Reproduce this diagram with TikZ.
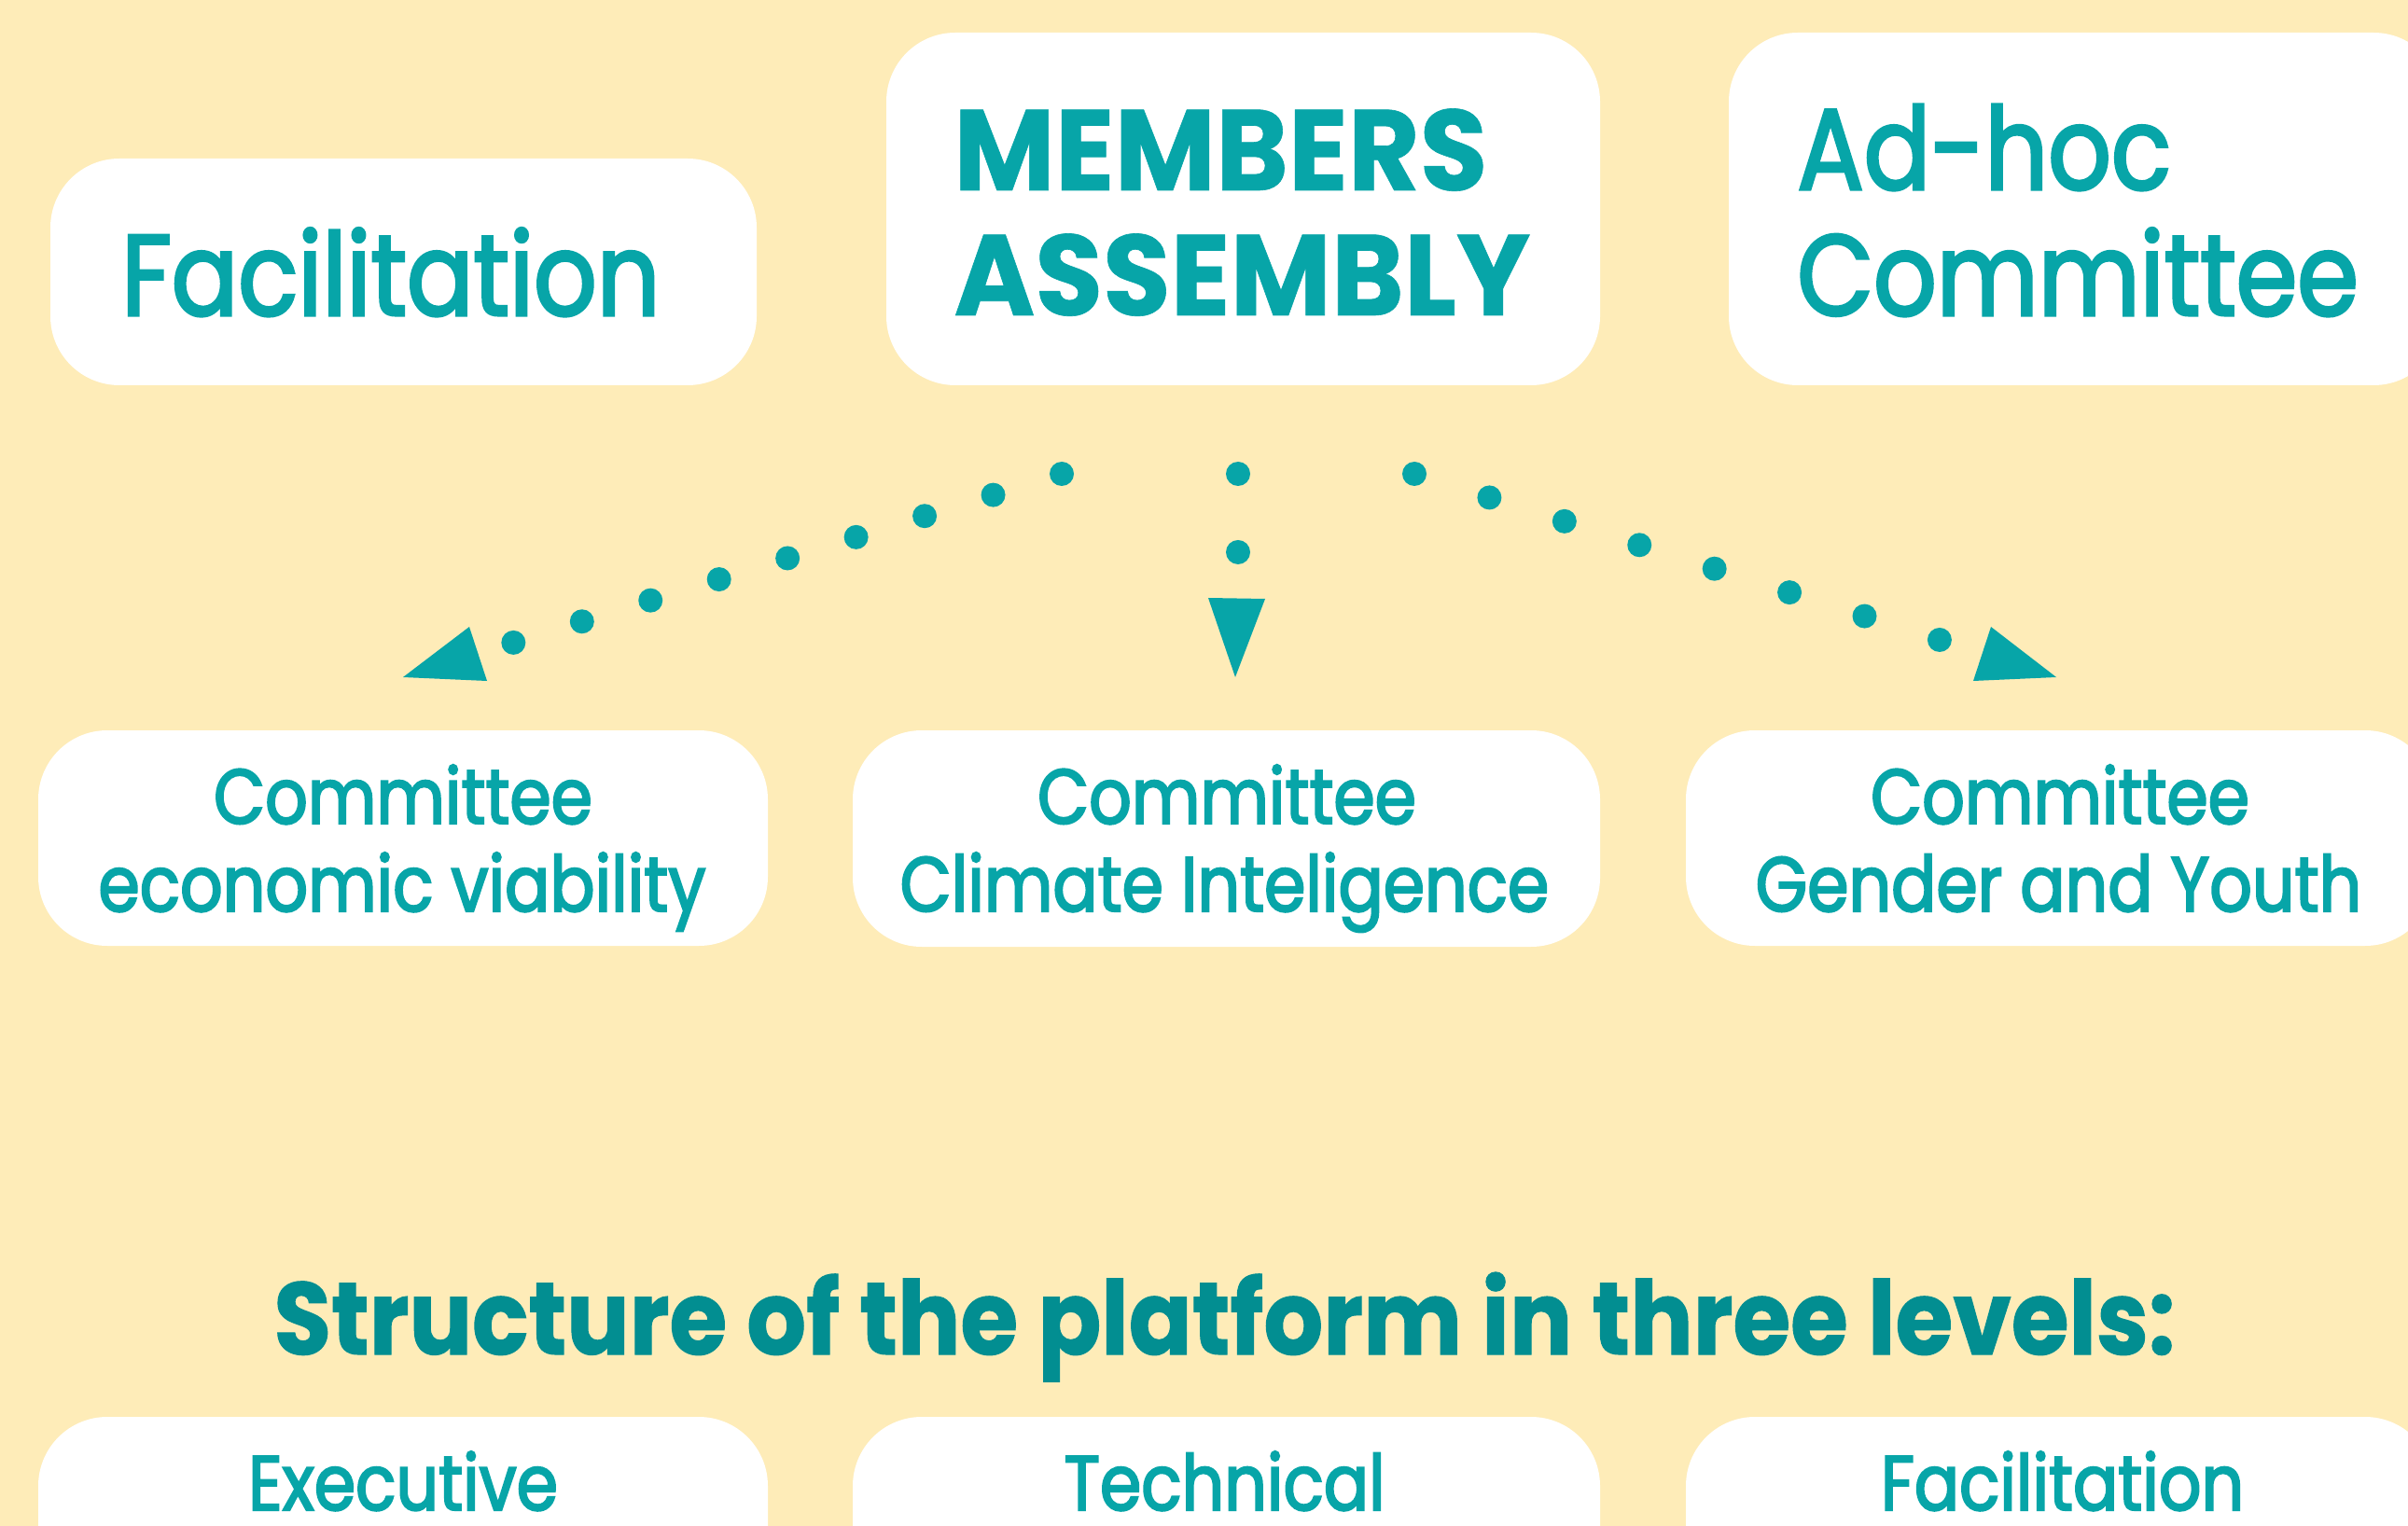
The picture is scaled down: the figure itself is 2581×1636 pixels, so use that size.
\documentclass[tikz,border=0pt]{standalone}
\usepackage{fontspec}
\setmainfont{Poppins}
\newfontfamily\labfont{Poppins}[FakeStretch=0.86,FakeBold=2.5]
\newfontfamily\memfont{Poppins}[BoldFeatures={FakeStretch=0.96,FakeBold=0.5}]
\newfontfamily\titfont{Poppins}[BoldFeatures={FakeStretch=0.91,FakeBold=1}]
\definecolor{bg}{HTML}{FEECB8}
\definecolor{teal}{HTML}{07A5A8}
\definecolor{dteal}{HTML}{028E91}
\begin{document}
\begin{tikzpicture}[x=0.5pt,y=-0.5pt,
  box/.style={fill=white,rounded corners=37pt,inner sep=0pt},
  lbl/.style={text=teal,inner sep=0pt,font=\labfont\fontsize{61.5}{70}\selectfont},
  lblb/.style={text=teal,inner sep=0pt,font=\memfont\fontsize{61.5}{70}\selectfont\bfseries},
  sml/.style={text=teal,inner sep=0pt,anchor=base,font=\labfont\fontsize{41.5}{48}\selectfont},
  dots/.style={draw=teal,line width=13pt,line cap=round},
  head/.style={fill=teal}]
\fill[bg] (0,0) rectangle (2581,1636);
\useasboundingbox (0,0) rectangle (2581,1636);
% top boxes
\node[box,minimum width=378.5pt,minimum height=121.5pt] (fac) at (432.5,291.5) {};
\node[box,minimum width=382.5pt,minimum height=189pt] (mem) at (1332.5,224) {};
\node[box,minimum width=382.5pt,minimum height=189pt] (adh) at (2235.5,224) {};
\node[lbl,anchor=base west] (tfac) at (130,338) {Facilitation};
\node[lblb,anchor=base west] (tmem1) at (1022,204) {MEMBERS};
\node[lblb,anchor=base west] (tmem2) at (1022,338) {ASSEMBLY};
\node[lbl,anchor=base west] (tadh1) at (1926,203) {Ad-hoc};
\node[lbl,anchor=base west] (tadh2) at (1926,338) {Committee};
% middle boxes
\node[box,minimum width=391pt,minimum height=115.5pt] (c1) at (432,898.5) {};
\node[box,minimum width=400.5pt,minimum height=116pt] (c2) at (1314.5,899) {};
\node[box,minimum width=401pt,minimum height=115.5pt] (c3) at (2208,898.5) {};
\node[sml] (c1a) at (432,883) {Committee};
\node[sml] (c1b) at (431,977) {economic viability};
\node[sml] (c2a) at (1315,883) {Committee};
\node[sml] (c2b) at (1312.5,977) {Climate Inteligence};
\node[sml] (c3a) at (2208,883) {Committee};
\node[sml] (c3b) at (2206.5,977) {Gender and Youth};
% title
\node[text=dteal,inner sep=0pt,anchor=base,font=\titfont\fontsize{55}{62}\selectfont\bfseries] (title) at (1312.5,1452) {Structure of the platform in three levels:};
% bottom boxes
\node[box,minimum width=391pt,minimum height=115.5pt] (b1) at (432,1634.5) {};
\node[box,minimum width=400.5pt,minimum height=115.5pt] (b2) at (1314.5,1634.5) {};
\node[box,minimum width=401pt,minimum height=115.5pt] (b3) at (2208,1634.5) {};
\node[sml] (b1t) at (432,1619) {Executive};
\node[sml] (b2t) at (1312.5,1619) {Technical};
\node[sml] (b3t) at (2210.5,1619) {Facilitation};
% connectors
\coordinate (ls) at (1138,508);
\coordinate (le) at (550,689);
\coordinate (ms) at (1327,508);
\coordinate (me) at (1327,592);
\coordinate (rs) at (1516,508);
\coordinate (re) at (2079,686);
\draw[dots,dash pattern=on 0pt off 38.43pt] (ls) -- (le);
\draw[dots,dash pattern=on 0pt off 41.98pt] (ms) -- (me);
\draw[dots,dash pattern=on 0pt off 42.17pt] (rs) -- (re);
\coordinate (lt) at (432,726);
\coordinate (mt) at (1324,726);
\coordinate (rt) at (2204,726);
\fill[head] (lt) -- (503,672) -- (522,730) -- cycle;
\fill[head] (mt) -- (1295,641) -- (1356,642) -- cycle;
\fill[head] (rt) -- (2134,672) -- (2115,730) -- cycle;
\end{tikzpicture}
\end{document}
